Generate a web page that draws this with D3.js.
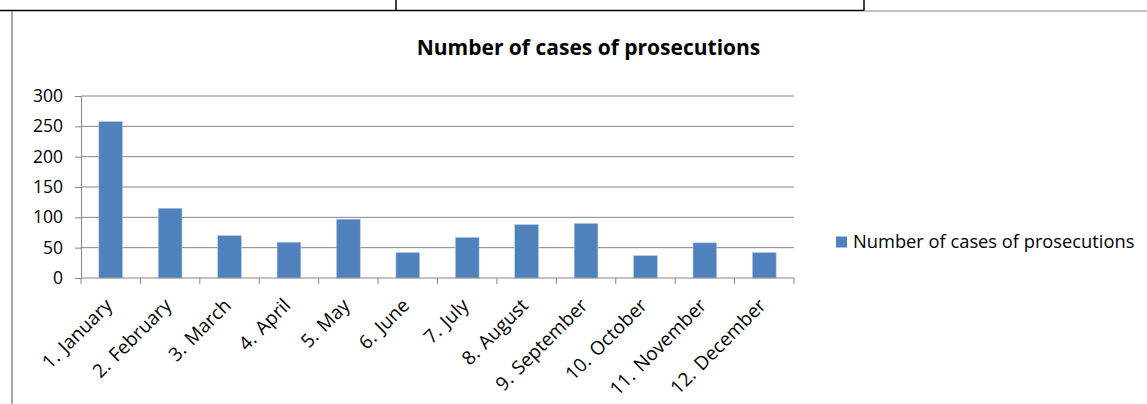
<!DOCTYPE html>
<html>
<head>
<meta charset="utf-8">
<script src="https://cdn.jsdelivr.net/npm/d3@7"></script>
<style>
  html, body { margin: 0; padding: 0; background: #fff; }
  svg { display: block; }
  text { font-family: "Open Sans", "DejaVu Sans", sans-serif; fill: #000; }
</style>
</head>
<body>
<svg id="chart" width="1147" height="404"></svg>
<script>
const categories = ["1. January", "2. February", "3. March", "4. April", "5. May", "6. June",
                    "7. July", "8. August", "9. September", "10. October", "11. November", "12. December"];
const values = [258, 115, 70, 59, 97, 42, 67, 88, 90, 37, 58, 42];
const yTicks = [0, 50, 100, 150, 200, 250, 300];
const seriesName = "Number of cases of prosecutions";
const title = "Number of cases of prosecutions";

const svg = d3.select("#chart");
const W = 1147, H = 404;

// page/table borders
svg.append("line").attr("x1", 0).attr("x2", 864).attr("y1", 10.5).attr("y2", 10.5)
  .attr("stroke", "#000").attr("stroke-width", 1.5);
svg.append("line").attr("x1", 864).attr("x2", W).attr("y1", 11).attr("y2", 11)
  .attr("stroke", "#888").attr("stroke-width", 1);
svg.append("line").attr("x1", 396).attr("x2", 396).attr("y1", 0).attr("y2", 10.5)
  .attr("stroke", "#000").attr("stroke-width", 1.5);
svg.append("line").attr("x1", 864).attr("x2", 864).attr("y1", 0).attr("y2", 10.5)
  .attr("stroke", "#000").attr("stroke-width", 1.5);
svg.append("line").attr("x1", 12).attr("x2", 12).attr("y1", 11).attr("y2", H)
  .attr("stroke", "#888").attr("stroke-width", 1.5);

const pLeft = 81, pRight = 794, pTop = 96, pBottom = 278;
const x = d3.scaleBand().domain(categories).range([pLeft, pRight]).paddingInner(0.6).paddingOuter(0.3);
const xb = d3.scaleBand().domain(categories).range([pLeft, pRight]);
const y = d3.scaleLinear().domain([0, 300]).range([pBottom, pTop]);

const axisColor = "#868686";

// gridlines
svg.append("g").selectAll("line").data(yTicks.filter(d => d > 0)).join("line")
  .attr("x1", pLeft).attr("x2", pRight)
  .attr("y1", d => y(d)).attr("y2", d => y(d))
  .attr("stroke", axisColor).attr("stroke-width", 1);

// y axis
const yAxis = svg.append("g").attr("transform", `translate(${pLeft},0)`)
  .call(d3.axisLeft(y).tickValues(yTicks).tickSize(6).tickPadding(12));
yAxis.select(".domain").attr("stroke", axisColor);
yAxis.selectAll(".tick line").attr("stroke", axisColor);
yAxis.selectAll(".tick text").style("font-size", "17.5px").style("font-family", "'Open Sans', sans-serif").attr("fill", "#000");

// bars
svg.append("g").selectAll("rect").data(values).join("rect")
  .attr("x", (d, i) => x(categories[i]))
  .attr("width", x.bandwidth())
  .attr("y", d => y(d))
  .attr("height", d => y(0) - y(d))
  .attr("fill", "#4F81BD")
  .attr("stroke", "#B9CDE5").attr("stroke-width", 0.6);

// x axis
svg.append("line").attr("x1", pLeft).attr("x2", pRight).attr("y1", pBottom).attr("y2", pBottom)
  .attr("stroke", axisColor).attr("stroke-width", 1);
const bounds = categories.map(c => xb(c)).concat([pRight]);
svg.append("g").selectAll("line").data(bounds).join("line")
  .attr("x1", d => d).attr("x2", d => d).attr("y1", pBottom).attr("y2", pBottom + 6)
  .attr("stroke", axisColor);

svg.append("g").selectAll("text").data(categories).join("text")
  .attr("transform", d => `translate(${xb(d) + xb.bandwidth() / 2 - 2},${pBottom + 24}) rotate(-45)`)
  .attr("text-anchor", "end")
  .attr("dy", "0.35em")
  .style("font-size", "19px")
  .style("word-spacing", "2px")
  .text(d => d);

// title
svg.append("text").attr("x", 588.5).attr("y", 55).attr("text-anchor", "middle")
  .style("font-size", "21px").style("font-weight", "bold").text(title);

// legend
svg.append("rect").attr("x", 836).attr("y", 236.5).attr("width", 11).attr("height", 11).attr("fill", "#4F81BD");
svg.append("text").attr("x", 853).attr("y", 242).attr("dy", "0.35em")
  .style("font-size", "18.3px").text(seriesName);
</script>
</body>
</html>
